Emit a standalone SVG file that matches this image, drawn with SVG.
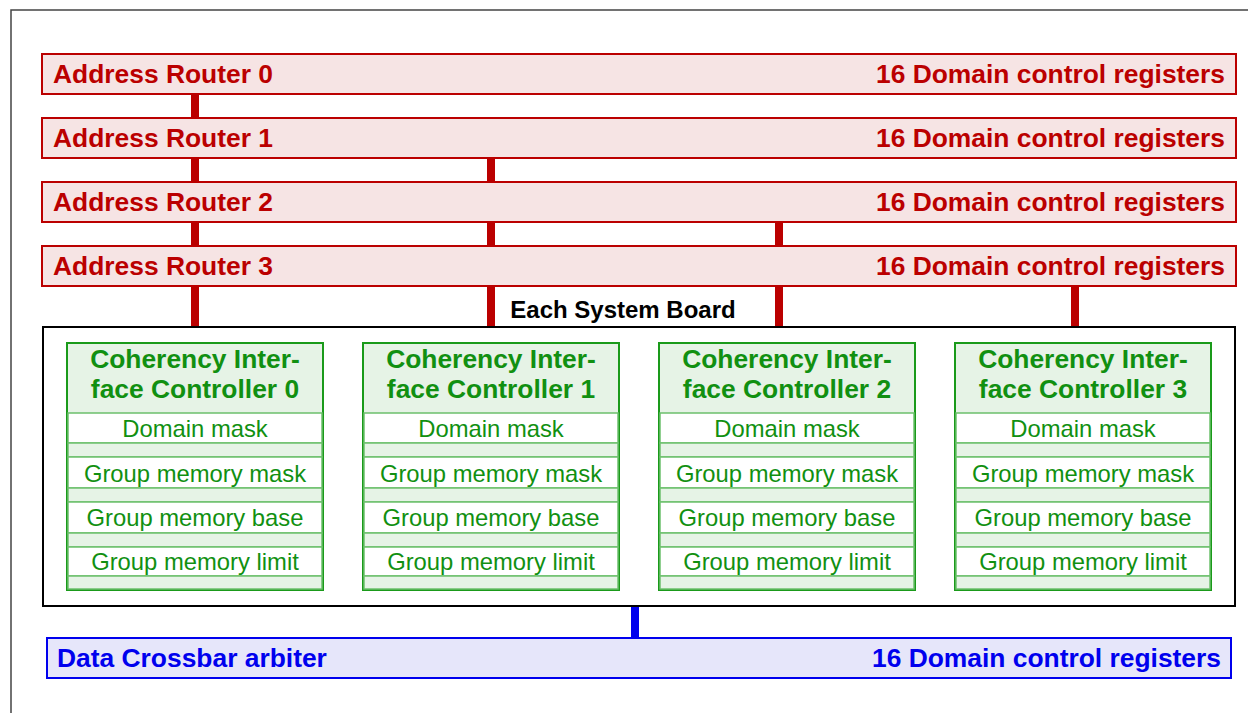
<svg xmlns="http://www.w3.org/2000/svg" width="1248" height="713" viewBox="0 0 1248 713">
<style>
.frame{fill:none;stroke:#444;stroke-width:1.5}
.router rect{fill:#f6e4e4;stroke:#bb0000;stroke-width:2}
.router text{fill:#bb0000;font:bold 26.4px "Liberation Sans",Arial,sans-serif}
.board{fill:none;stroke:#000;stroke-width:2}
.cic .outer{fill:#e6f3e6;stroke:#1a9a1a;stroke-width:2}
.cic .row{fill:#fff;stroke:#6cc06c;stroke-width:1.5}
.cic .band{fill:#e6f3e6;stroke:#6cc06c;stroke-width:1.5}
.cic .h{fill:#119011;font:bold 26.4px "Liberation Sans",Arial,sans-serif;text-anchor:middle}
.cic .r{fill:#119011;font:23.8px "Liberation Sans",Arial,sans-serif;text-anchor:middle}
.xbar rect{fill:#e6e6fa;stroke:#0000ee;stroke-width:2}
.xbar text{fill:#0000ee;font:bold 26.4px "Liberation Sans",Arial,sans-serif}
.rc{stroke:#bb0000;stroke-width:8}
.bc{stroke:#0000ee;stroke-width:8}
.lbl{font:bold 24px "Liberation Sans",Arial,sans-serif;fill:#000;text-anchor:middle}
</style>
<rect x="0" y="0" width="1248" height="713" fill="#fff"/>
<path class="frame" d="M11,713 V10 H1248"/>
<g id="connectors">
<line class="rc" x1="195" y1="94" x2="195" y2="326"/>
<line class="rc" x1="491" y1="158" x2="491" y2="326"/>
<line class="rc" x1="779" y1="222" x2="779" y2="326"/>
<line class="rc" x1="1075" y1="286" x2="1075" y2="326"/>
<line class="bc" x1="635" y1="606" x2="635" y2="638"/>
</g>
<g id="router0" class="router"><rect x="42" y="54" width="1194" height="40"/><text x="53" y="83">Address Router 0</text><text x="1225" y="83" text-anchor="end">16 Domain control registers</text></g>
<g id="router1" class="router"><rect x="42" y="118" width="1194" height="40"/><text x="53" y="147">Address Router 1</text><text x="1225" y="147" text-anchor="end">16 Domain control registers</text></g>
<g id="router2" class="router"><rect x="42" y="182" width="1194" height="40"/><text x="53" y="211">Address Router 2</text><text x="1225" y="211" text-anchor="end">16 Domain control registers</text></g>
<g id="router3" class="router"><rect x="42" y="246" width="1194" height="40"/><text x="53" y="275">Address Router 3</text><text x="1225" y="275" text-anchor="end">16 Domain control registers</text></g>
<g id="board">
<rect class="board" x="43" y="327" width="1192" height="279"/>
<text class="lbl" x="623" y="318">Each System Board</text>
</g>
<g id="cic0" class="cic" transform="translate(67,0)">
<rect class="outer" x="0" y="343" width="256" height="247"/>
<rect class="row" x="1" y="413" width="254" height="30"/><rect class="band" x="1" y="443" width="254" height="14"/>
<rect class="row" x="1" y="457" width="254" height="31"/><rect class="band" x="1" y="488" width="254" height="14"/>
<rect class="row" x="1" y="502" width="254" height="31"/><rect class="band" x="1" y="533" width="254" height="14"/>
<rect class="row" x="1" y="547" width="254" height="29"/><rect class="band" x="1" y="576" width="254" height="13"/>
<text class="h" x="128" y="368">Coherency Inter-</text><text class="h" x="128" y="398">face Controller 0</text>
<text class="r" x="128" y="437">Domain mask</text><text class="r" x="128" y="482">Group memory mask</text><text class="r" x="128" y="526">Group memory base</text><text class="r" x="128" y="570">Group memory limit</text>
</g>
<g id="cic1" class="cic" transform="translate(363,0)">
<rect class="outer" x="0" y="343" width="256" height="247"/>
<rect class="row" x="1" y="413" width="254" height="30"/><rect class="band" x="1" y="443" width="254" height="14"/>
<rect class="row" x="1" y="457" width="254" height="31"/><rect class="band" x="1" y="488" width="254" height="14"/>
<rect class="row" x="1" y="502" width="254" height="31"/><rect class="band" x="1" y="533" width="254" height="14"/>
<rect class="row" x="1" y="547" width="254" height="29"/><rect class="band" x="1" y="576" width="254" height="13"/>
<text class="h" x="128" y="368">Coherency Inter-</text><text class="h" x="128" y="398">face Controller 1</text>
<text class="r" x="128" y="437">Domain mask</text><text class="r" x="128" y="482">Group memory mask</text><text class="r" x="128" y="526">Group memory base</text><text class="r" x="128" y="570">Group memory limit</text>
</g>
<g id="cic2" class="cic" transform="translate(659,0)">
<rect class="outer" x="0" y="343" width="256" height="247"/>
<rect class="row" x="1" y="413" width="254" height="30"/><rect class="band" x="1" y="443" width="254" height="14"/>
<rect class="row" x="1" y="457" width="254" height="31"/><rect class="band" x="1" y="488" width="254" height="14"/>
<rect class="row" x="1" y="502" width="254" height="31"/><rect class="band" x="1" y="533" width="254" height="14"/>
<rect class="row" x="1" y="547" width="254" height="29"/><rect class="band" x="1" y="576" width="254" height="13"/>
<text class="h" x="128" y="368">Coherency Inter-</text><text class="h" x="128" y="398">face Controller 2</text>
<text class="r" x="128" y="437">Domain mask</text><text class="r" x="128" y="482">Group memory mask</text><text class="r" x="128" y="526">Group memory base</text><text class="r" x="128" y="570">Group memory limit</text>
</g>
<g id="cic3" class="cic" transform="translate(955,0)">
<rect class="outer" x="0" y="343" width="256" height="247"/>
<rect class="row" x="1" y="413" width="254" height="30"/><rect class="band" x="1" y="443" width="254" height="14"/>
<rect class="row" x="1" y="457" width="254" height="31"/><rect class="band" x="1" y="488" width="254" height="14"/>
<rect class="row" x="1" y="502" width="254" height="31"/><rect class="band" x="1" y="533" width="254" height="14"/>
<rect class="row" x="1" y="547" width="254" height="29"/><rect class="band" x="1" y="576" width="254" height="13"/>
<text class="h" x="128" y="368">Coherency Inter-</text><text class="h" x="128" y="398">face Controller 3</text>
<text class="r" x="128" y="437">Domain mask</text><text class="r" x="128" y="482">Group memory mask</text><text class="r" x="128" y="526">Group memory base</text><text class="r" x="128" y="570">Group memory limit</text>
</g>
<g id="xbar" class="xbar"><rect x="47" y="638" width="1184" height="40"/><text x="57" y="667">Data Crossbar arbiter</text><text x="1221" y="667" text-anchor="end">16 Domain control registers</text></g>
</svg>
